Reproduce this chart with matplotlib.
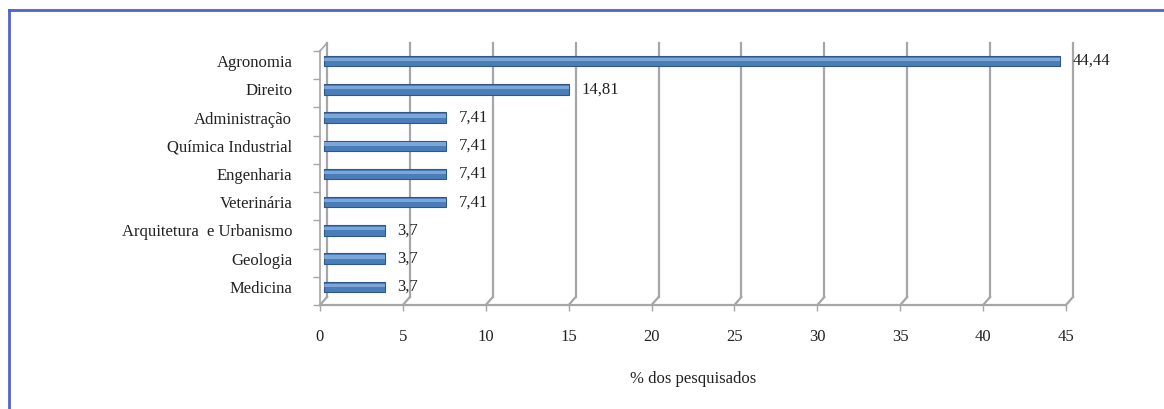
import matplotlib.pyplot as plt
from matplotlib.lines import Line2D

cursos = ["Medicina", "Geologia", "Arquitetura  e Urbanismo", "Veterinária",
          "Engenharia", "Química Industrial", "Administração", "Direito",
          "Agronomia"]
valores = [3.7, 3.7, 3.7, 7.41, 7.41, 7.41, 7.41, 14.81, 44.44]
rotulos = ["3,7", "3,7", "3,7", "7,41", "7,41", "7,41", "7,41", "14,81", "44,44"]
xticks = [0, 5, 10, 15, 20, 25, 30, 35, 40, 45]

plt.rcParams['font.family'] = ['Liberation Serif', 'DejaVu Serif']

W, H = 1164, 409
fig = plt.figure(figsize=(W / 100, H / 100), dpi=100)
ax = fig.add_axes([320 / W, 1 - 305 / H, 746 / W, 254 / H])
ax.set_xlim(0, 45)
ax.set_ylim(-0.5, 8.5)

# 3d depth offset in data units
dx = 7 / (746 / 45)
dy = 8 / (254 / 9)
grid_c = '#a6a6a6'

# back wall gridlines + diagonal to front floor
for x in xticks:
    ax.plot([x + dx, x + dx], [-0.5 + dy, 8.5 + dy], color=grid_c, lw=1.6,
            clip_on=False, zorder=1)
    ax.plot([x + dx, x], [-0.5 + dy, -0.5], color=grid_c, lw=1.6,
            clip_on=False, zorder=1)
# front floor edge and left wall
ax.plot([0, 45], [-0.5, -0.5], color=grid_c, lw=1.6, clip_on=False, zorder=1)
ax.plot([0, 0], [-0.5, 8.5], color=grid_c, lw=1.2, clip_on=False, zorder=1)
ax.plot([0, dx], [8.5, 8.5 + dy], color=grid_c, lw=1.2, clip_on=False, zorder=1)

# bars (cylinder look)
pos = [i + dy / 2 for i in range(len(cursos))]
ax.barh(pos, valores, height=0.37, left=dx / 2, color='#4a7ebb',
        edgecolor='#2f5889', linewidth=0.8, zorder=3)
ax.barh([p + 0.06 for p in pos], valores, height=0.12, left=dx / 2,
        color='#8fb4e3', linewidth=0, alpha=0.75, zorder=4)

for p, v, r in zip(pos, valores, rotulos):
    ax.annotate(r, (v + dx / 2, p), xytext=(9, 0), textcoords='offset points',
                ha='left', va='center', fontsize=12, color='#222222')

for s in ax.spines.values():
    s.set_visible(False)
ax.set_xticks(xticks)
ax.set_xticklabels([str(x) for x in xticks])
ax.tick_params(axis='x', length=4, width=1, color=grid_c, pad=13,
               labelsize=12, labelcolor='#222222')
ax.set_yticks(pos)
ax.set_yticklabels(cursos)
ax.set_yticks([i + 0.5 for i in range(-1, len(cursos))], minor=True)
ax.tick_params(axis='y', which='major', length=0, pad=20, labelsize=12,
               labelcolor='#222222')
ax.tick_params(axis='y', which='minor', length=5, width=1, color=grid_c)
ax.set_xlabel('% dos pesquisados', fontsize=12, color='#222222', labelpad=19)

# blue frame
fx = 9 / W
fy = 1 - 10 / H
fig.add_artist(Line2D([fx, fx], [0, fy], transform=fig.transFigure,
                      color='#4f63c9', lw=2))
fig.add_artist(Line2D([fx, 1], [fy, fy], transform=fig.transFigure,
                      color='#4f63c9', lw=2))

fig.savefig('out.png', dpi=100)
